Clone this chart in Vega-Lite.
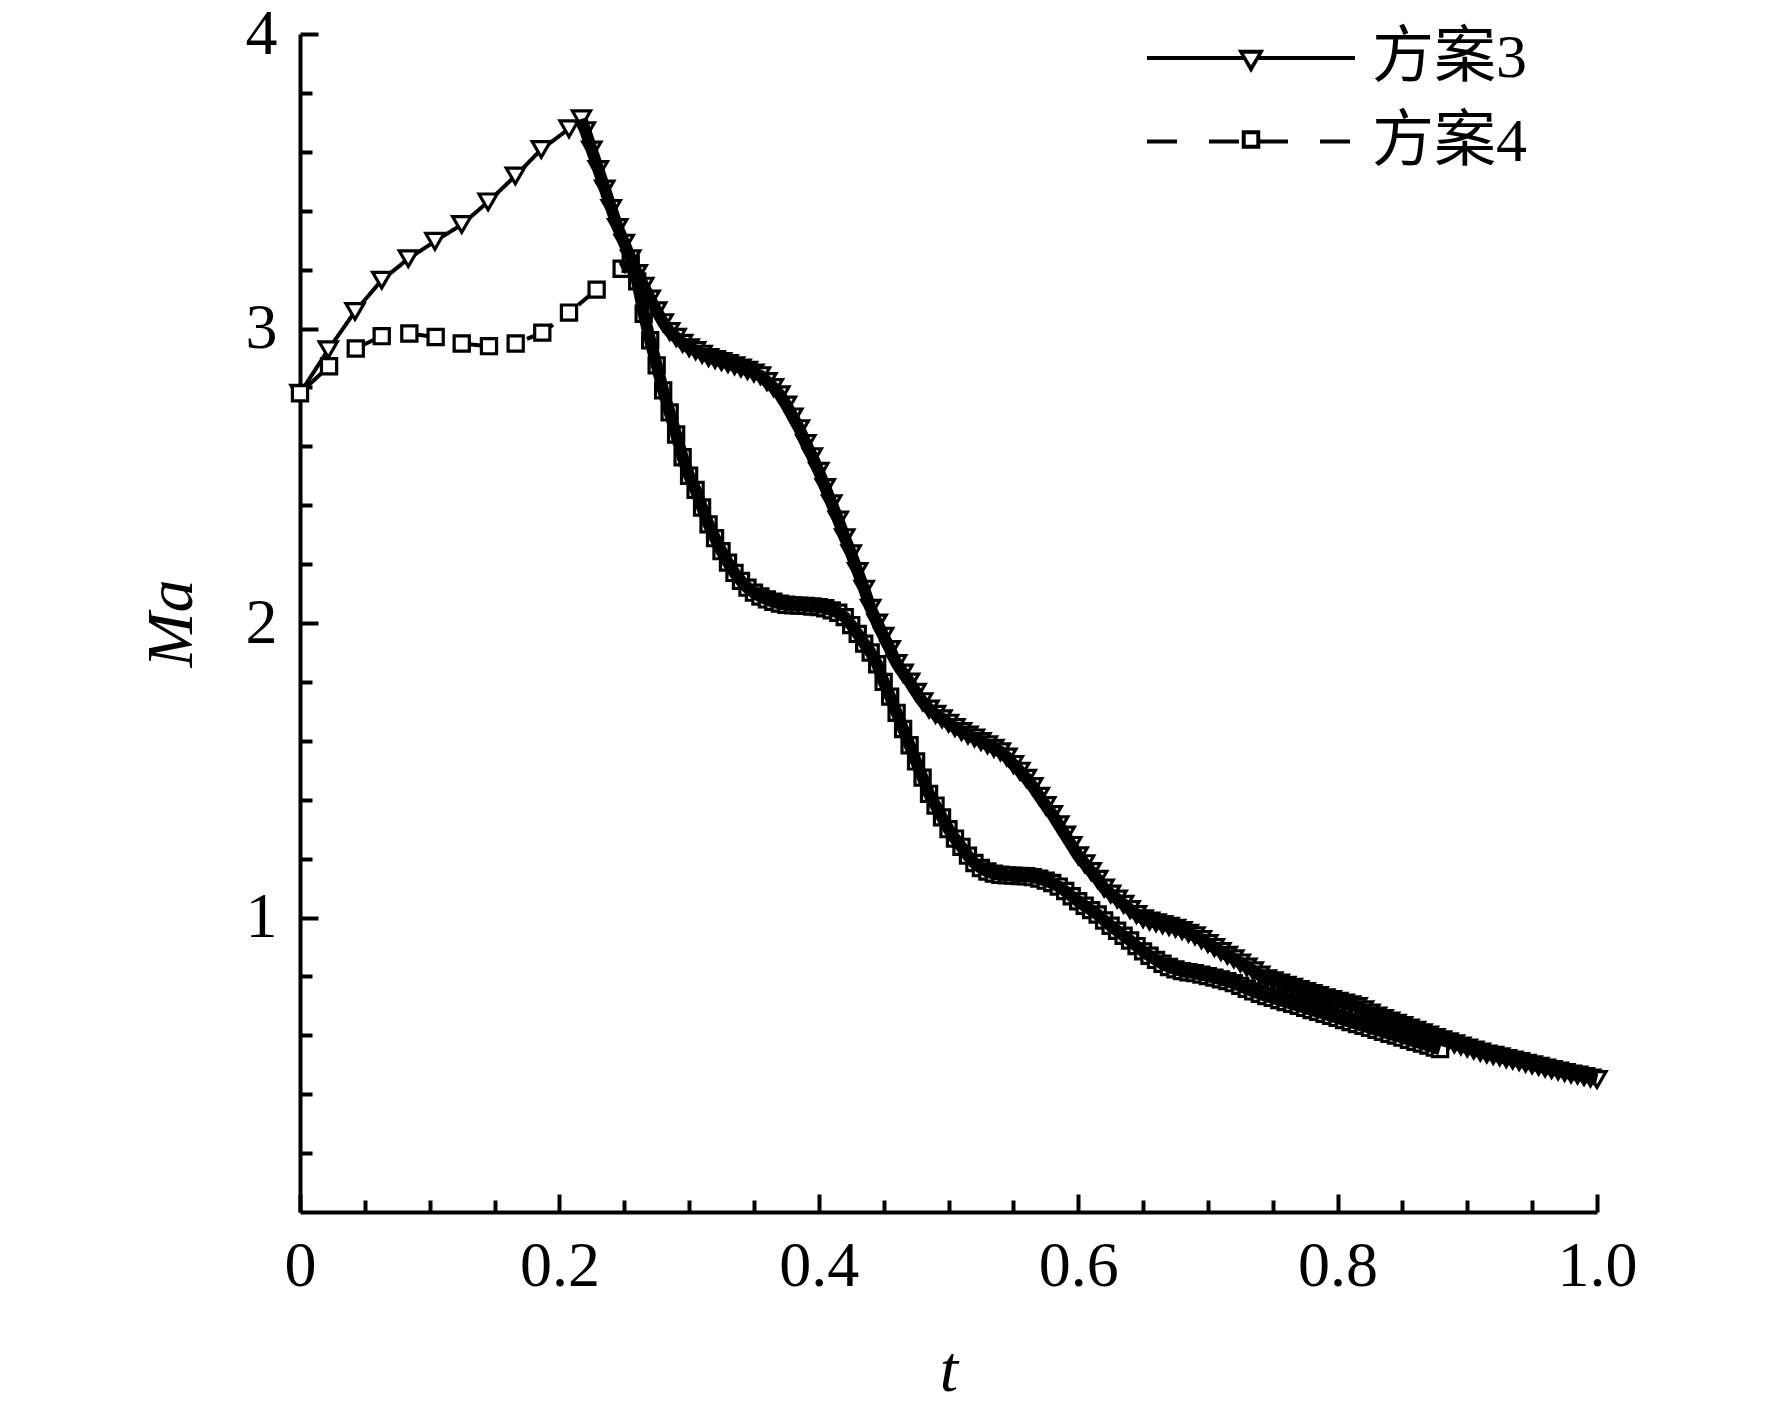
{
  "$schema": "https://vega.github.io/schema/vega-lite/v6.json",
  "width": 1297,
  "height": 1178,
  "autosize": {"type": "none"},
  "padding": {"left": 300, "top": 34, "right": 175, "bottom": 196},
  "background": "white",
  "config": {
    "view": {"stroke": null},
    "axis": {
      "domainColor": "black", "domainWidth": 4, "tickColor": "black", "tickWidth": 4,
      "labelColor": "black", "titleColor": "black",
      "labelFont": "Liberation Serif", "titleFont": "Liberation Serif",
      "labelFontSize": 64, "titleFontSize": 66, "titleFontStyle": "italic", "titleFontWeight": "normal",
      "grid": false, "labelOverlap": false, "labelFlush": false
    }
  },
  "data": {"values": [
    {"s":"方案3","t":0,"Ma":2.78},{"s":"方案3","t":0.0218,"Ma":2.928},{"s":"方案3","t":0.0424,"Ma":3.058},{"s":"方案3","t":0.063,"Ma":3.164},
    {"s":"方案3","t":0.0835,"Ma":3.237},{"s":"方案3","t":0.104,"Ma":3.296},{"s":"方案3","t":0.1247,"Ma":3.353},{"s":"方案3","t":0.145,"Ma":3.43},
    {"s":"方案3","t":0.166,"Ma":3.518},{"s":"方案3","t":0.186,"Ma":3.608},{"s":"方案3","t":0.2074,"Ma":3.678},{"s":"方案3","t":0.217,"Ma":3.712},
    {"s":"方案3","t":0.22,"Ma":3.672},{"s":"方案3","t":0.225,"Ma":3.606},{"s":"方案3","t":0.23,"Ma":3.54},{"s":"方案3","t":0.235,"Ma":3.474},
    {"s":"方案3","t":0.24,"Ma":3.408},{"s":"方案3","t":0.245,"Ma":3.343},{"s":"方案3","t":0.25,"Ma":3.29},{"s":"方案3","t":0.255,"Ma":3.237},
    {"s":"方案3","t":0.26,"Ma":3.187},{"s":"方案3","t":0.265,"Ma":3.144},{"s":"方案3","t":0.27,"Ma":3.1},{"s":"方案3","t":0.275,"Ma":3.06},
    {"s":"方案3","t":0.28,"Ma":3.02},{"s":"方案3","t":0.285,"Ma":2.99},{"s":"方案3","t":0.29,"Ma":2.97},{"s":"方案3","t":0.295,"Ma":2.95},
    {"s":"方案3","t":0.3,"Ma":2.935},{"s":"方案3","t":0.305,"Ma":2.925},{"s":"方案3","t":0.31,"Ma":2.913},{"s":"方案3","t":0.315,"Ma":2.902},
    {"s":"方案3","t":0.32,"Ma":2.895},{"s":"方案3","t":0.325,"Ma":2.888},{"s":"方案3","t":0.33,"Ma":2.881},{"s":"方案3","t":0.335,"Ma":2.874},
    {"s":"方案3","t":0.34,"Ma":2.866},{"s":"方案3","t":0.345,"Ma":2.858},{"s":"方案3","t":0.35,"Ma":2.849},{"s":"方案3","t":0.355,"Ma":2.84},
    {"s":"方案3","t":0.36,"Ma":2.82},{"s":"方案3","t":0.365,"Ma":2.8},{"s":"方案3","t":0.37,"Ma":2.775},{"s":"方案3","t":0.375,"Ma":2.74},
    {"s":"方案3","t":0.38,"Ma":2.7},{"s":"方案3","t":0.385,"Ma":2.66},{"s":"方案3","t":0.39,"Ma":2.61},{"s":"方案3","t":0.395,"Ma":2.565},
    {"s":"方案3","t":0.4,"Ma":2.515},{"s":"方案3","t":0.405,"Ma":2.46},{"s":"方案3","t":0.41,"Ma":2.405},{"s":"方案3","t":0.415,"Ma":2.35},
    {"s":"方案3","t":0.42,"Ma":2.29},{"s":"方案3","t":0.425,"Ma":2.235},{"s":"方案3","t":0.43,"Ma":2.175},{"s":"方案3","t":0.435,"Ma":2.115},
    {"s":"方案3","t":0.44,"Ma":2.05},{"s":"方案3","t":0.445,"Ma":2.0},{"s":"方案3","t":0.45,"Ma":1.955},{"s":"方案3","t":0.455,"Ma":1.91},
    {"s":"方案3","t":0.46,"Ma":1.863},{"s":"方案3","t":0.465,"Ma":1.83},{"s":"方案3","t":0.47,"Ma":1.8},{"s":"方案3","t":0.475,"Ma":1.765},
    {"s":"方案3","t":0.48,"Ma":1.733},{"s":"方案3","t":0.485,"Ma":1.708},{"s":"方案3","t":0.49,"Ma":1.69},{"s":"方案3","t":0.495,"Ma":1.675},
    {"s":"方案3","t":0.5,"Ma":1.66},{"s":"方案3","t":0.505,"Ma":1.645},{"s":"方案3","t":0.51,"Ma":1.632},{"s":"方案3","t":0.515,"Ma":1.62},
    {"s":"方案3","t":0.52,"Ma":1.61},{"s":"方案3","t":0.525,"Ma":1.598},{"s":"方案3","t":0.53,"Ma":1.587},{"s":"方案3","t":0.535,"Ma":1.575},
    {"s":"方案3","t":0.54,"Ma":1.563},{"s":"方案3","t":0.545,"Ma":1.545},{"s":"方案3","t":0.55,"Ma":1.52},{"s":"方案3","t":0.555,"Ma":1.497},
    {"s":"方案3","t":0.56,"Ma":1.473},{"s":"方案3","t":0.565,"Ma":1.445},{"s":"方案3","t":0.57,"Ma":1.412},{"s":"方案3","t":0.575,"Ma":1.38},
    {"s":"方案3","t":0.58,"Ma":1.35},{"s":"方案3","t":0.585,"Ma":1.315},{"s":"方案3","t":0.59,"Ma":1.28},{"s":"方案3","t":0.595,"Ma":1.245},
    {"s":"方案3","t":0.6,"Ma":1.21},{"s":"方案3","t":0.605,"Ma":1.183},{"s":"方案3","t":0.61,"Ma":1.156},{"s":"方案3","t":0.615,"Ma":1.13},
    {"s":"方案3","t":0.62,"Ma":1.1},{"s":"方案3","t":0.625,"Ma":1.08},{"s":"方案3","t":0.63,"Ma":1.063},{"s":"方案3","t":0.635,"Ma":1.045},
    {"s":"方案3","t":0.64,"Ma":1.027},{"s":"方案3","t":0.645,"Ma":1.01},{"s":"方案3","t":0.65,"Ma":0.996},{"s":"方案3","t":0.655,"Ma":0.988},
    {"s":"方案3","t":0.66,"Ma":0.982},{"s":"方案3","t":0.665,"Ma":0.976},{"s":"方案3","t":0.67,"Ma":0.97},{"s":"方案3","t":0.675,"Ma":0.964},
    {"s":"方案3","t":0.68,"Ma":0.956},{"s":"方案3","t":0.685,"Ma":0.947},{"s":"方案3","t":0.69,"Ma":0.938},{"s":"方案3","t":0.695,"Ma":0.925},
    {"s":"方案3","t":0.7,"Ma":0.912},{"s":"方案3","t":0.705,"Ma":0.898},{"s":"方案3","t":0.71,"Ma":0.885},{"s":"方案3","t":0.715,"Ma":0.872},
    {"s":"方案3","t":0.72,"Ma":0.86},{"s":"方案3","t":0.725,"Ma":0.846},{"s":"方案3","t":0.73,"Ma":0.832},{"s":"方案3","t":0.735,"Ma":0.819},
    {"s":"方案3","t":0.74,"Ma":0.805},{"s":"方案3","t":0.745,"Ma":0.792},{"s":"方案3","t":0.75,"Ma":0.785},{"s":"方案3","t":0.755,"Ma":0.778},
    {"s":"方案3","t":0.76,"Ma":0.77},{"s":"方案3","t":0.765,"Ma":0.763},{"s":"方案3","t":0.77,"Ma":0.756},{"s":"方案3","t":0.775,"Ma":0.749},
    {"s":"方案3","t":0.78,"Ma":0.742},{"s":"方案3","t":0.785,"Ma":0.735},{"s":"方案3","t":0.79,"Ma":0.728},{"s":"方案3","t":0.795,"Ma":0.722},
    {"s":"方案3","t":0.8,"Ma":0.716},{"s":"方案3","t":0.805,"Ma":0.71},{"s":"方案3","t":0.81,"Ma":0.704},{"s":"方案3","t":0.815,"Ma":0.698},
    {"s":"方案3","t":0.82,"Ma":0.687},{"s":"方案3","t":0.825,"Ma":0.676},{"s":"方案3","t":0.83,"Ma":0.666},{"s":"方案3","t":0.835,"Ma":0.657},
    {"s":"方案3","t":0.84,"Ma":0.649},{"s":"方案3","t":0.845,"Ma":0.641},{"s":"方案3","t":0.85,"Ma":0.633},{"s":"方案3","t":0.855,"Ma":0.625},
    {"s":"方案3","t":0.86,"Ma":0.617},{"s":"方案3","t":0.865,"Ma":0.609},{"s":"方案3","t":0.87,"Ma":0.601},{"s":"方案3","t":0.875,"Ma":0.593},
    {"s":"方案3","t":0.88,"Ma":0.585},{"s":"方案3","t":0.885,"Ma":0.578},{"s":"方案3","t":0.89,"Ma":0.571},{"s":"方案3","t":0.895,"Ma":0.564},
    {"s":"方案3","t":0.9,"Ma":0.557},{"s":"方案3","t":0.905,"Ma":0.55},{"s":"方案3","t":0.91,"Ma":0.543},{"s":"方案3","t":0.915,"Ma":0.537},
    {"s":"方案3","t":0.92,"Ma":0.532},{"s":"方案3","t":0.925,"Ma":0.527},{"s":"方案3","t":0.93,"Ma":0.521},{"s":"方案3","t":0.935,"Ma":0.516},
    {"s":"方案3","t":0.94,"Ma":0.511},{"s":"方案3","t":0.945,"Ma":0.505},{"s":"方案3","t":0.95,"Ma":0.5},{"s":"方案3","t":0.955,"Ma":0.495},
    {"s":"方案3","t":0.96,"Ma":0.489},{"s":"方案3","t":0.965,"Ma":0.484},{"s":"方案3","t":0.97,"Ma":0.479},{"s":"方案3","t":0.975,"Ma":0.474},
    {"s":"方案3","t":0.98,"Ma":0.469},{"s":"方案3","t":0.985,"Ma":0.465},{"s":"方案3","t":0.99,"Ma":0.46},{"s":"方案3","t":0.995,"Ma":0.455},
    {"s":"方案3","t":1.0,"Ma":0.45},
    {"s":"方案4","t":0,"Ma":2.78},{"s":"方案4","t":0.0224,"Ma":2.872},{"s":"方案4","t":0.043,"Ma":2.932},{"s":"方案4","t":0.063,"Ma":2.974},
    {"s":"方案4","t":0.0843,"Ma":2.983},{"s":"方案4","t":0.1046,"Ma":2.971},{"s":"方案4","t":0.1247,"Ma":2.949},{"s":"方案4","t":0.1457,"Ma":2.94},
    {"s":"方案4","t":0.1663,"Ma":2.949},{"s":"方案4","t":0.1868,"Ma":2.986},{"s":"方案4","t":0.2074,"Ma":3.054},{"s":"方案4","t":0.2287,"Ma":3.132},
    {"s":"方案4","t":0.248,"Ma":3.203},
    {"s":"方案4","t":0.255,"Ma":3.22},{"s":"方案4","t":0.26,"Ma":3.16},{"s":"方案4","t":0.265,"Ma":3.05},{"s":"方案4","t":0.27,"Ma":2.96},
    {"s":"方案4","t":0.275,"Ma":2.875},{"s":"方案4","t":0.28,"Ma":2.79},{"s":"方案4","t":0.285,"Ma":2.715},{"s":"方案4","t":0.29,"Ma":2.64},
    {"s":"方案4","t":0.295,"Ma":2.563},{"s":"方案4","t":0.3,"Ma":2.5},{"s":"方案4","t":0.305,"Ma":2.452},{"s":"方案4","t":0.31,"Ma":2.392},
    {"s":"方案4","t":0.315,"Ma":2.335},{"s":"方案4","t":0.32,"Ma":2.288},{"s":"方案4","t":0.325,"Ma":2.244},{"s":"方案4","t":0.33,"Ma":2.205},
    {"s":"方案4","t":0.335,"Ma":2.17},{"s":"方案4","t":0.34,"Ma":2.143},{"s":"方案4","t":0.345,"Ma":2.12},{"s":"方案4","t":0.35,"Ma":2.103},
    {"s":"方案4","t":0.355,"Ma":2.09},{"s":"方案4","t":0.36,"Ma":2.08},{"s":"方案4","t":0.365,"Ma":2.072},{"s":"方案4","t":0.37,"Ma":2.066},
    {"s":"方案4","t":0.375,"Ma":2.062},{"s":"方案4","t":0.38,"Ma":2.06},{"s":"方案4","t":0.385,"Ma":2.059},{"s":"方案4","t":0.39,"Ma":2.058},
    {"s":"方案4","t":0.395,"Ma":2.056},{"s":"方案4","t":0.4,"Ma":2.054},{"s":"方案4","t":0.405,"Ma":2.05},{"s":"方案4","t":0.41,"Ma":2.043},
    {"s":"方案4","t":0.415,"Ma":2.035},{"s":"方案4","t":0.42,"Ma":2.02},{"s":"方案4","t":0.425,"Ma":1.993},{"s":"方案4","t":0.43,"Ma":1.963},
    {"s":"方案4","t":0.435,"Ma":1.93},{"s":"方案4","t":0.44,"Ma":1.9},{"s":"方案4","t":0.445,"Ma":1.86},{"s":"方案4","t":0.45,"Ma":1.8},
    {"s":"方案4","t":0.455,"Ma":1.75},{"s":"方案4","t":0.46,"Ma":1.695},{"s":"方案4","t":0.465,"Ma":1.64},{"s":"方案4","t":0.47,"Ma":1.585},
    {"s":"方案4","t":0.475,"Ma":1.53},{"s":"方案4","t":0.48,"Ma":1.475},{"s":"方案4","t":0.485,"Ma":1.42},{"s":"方案4","t":0.49,"Ma":1.38},
    {"s":"方案4","t":0.495,"Ma":1.34},{"s":"方案4","t":0.5,"Ma":1.3},{"s":"方案4","t":0.505,"Ma":1.268},{"s":"方案4","t":0.51,"Ma":1.24},
    {"s":"方案4","t":0.515,"Ma":1.21},{"s":"方案4","t":0.52,"Ma":1.185},{"s":"方案4","t":0.525,"Ma":1.168},{"s":"方案4","t":0.53,"Ma":1.156},
    {"s":"方案4","t":0.535,"Ma":1.149},{"s":"方案4","t":0.54,"Ma":1.145},{"s":"方案4","t":0.545,"Ma":1.143},{"s":"方案4","t":0.55,"Ma":1.142},
    {"s":"方案4","t":0.555,"Ma":1.141},{"s":"方案4","t":0.56,"Ma":1.14},{"s":"方案4","t":0.565,"Ma":1.137},{"s":"方案4","t":0.57,"Ma":1.132},
    {"s":"方案4","t":0.575,"Ma":1.125},{"s":"方案4","t":0.58,"Ma":1.117},{"s":"方案4","t":0.585,"Ma":1.105},{"s":"方案4","t":0.59,"Ma":1.09},
    {"s":"方案4","t":0.595,"Ma":1.072},{"s":"方案4","t":0.6,"Ma":1.055},{"s":"方案4","t":0.605,"Ma":1.04},{"s":"方案4","t":0.61,"Ma":1.025},
    {"s":"方案4","t":0.615,"Ma":1.01},{"s":"方案4","t":0.62,"Ma":0.99},{"s":"方案4","t":0.625,"Ma":0.972},{"s":"方案4","t":0.63,"Ma":0.955},
    {"s":"方案4","t":0.635,"Ma":0.938},{"s":"方案4","t":0.64,"Ma":0.922},{"s":"方案4","t":0.645,"Ma":0.903},{"s":"方案4","t":0.65,"Ma":0.885},
    {"s":"方案4","t":0.655,"Ma":0.87},{"s":"方案4","t":0.66,"Ma":0.856},{"s":"方案4","t":0.665,"Ma":0.843},{"s":"方案4","t":0.67,"Ma":0.832},
    {"s":"方案4","t":0.675,"Ma":0.824},{"s":"方案4","t":0.68,"Ma":0.818},{"s":"方案4","t":0.685,"Ma":0.814},{"s":"方案4","t":0.69,"Ma":0.811},
    {"s":"方案4","t":0.695,"Ma":0.806},{"s":"方案4","t":0.7,"Ma":0.801},{"s":"方案4","t":0.705,"Ma":0.796},{"s":"方案4","t":0.71,"Ma":0.79},
    {"s":"方案4","t":0.715,"Ma":0.784},{"s":"方案4","t":0.72,"Ma":0.777},{"s":"方案4","t":0.725,"Ma":0.768},{"s":"方案4","t":0.73,"Ma":0.758},
    {"s":"方案4","t":0.735,"Ma":0.749},{"s":"方案4","t":0.74,"Ma":0.741},{"s":"方案4","t":0.745,"Ma":0.733},{"s":"方案4","t":0.75,"Ma":0.727},
    {"s":"方案4","t":0.755,"Ma":0.72},{"s":"方案4","t":0.76,"Ma":0.713},{"s":"方案4","t":0.765,"Ma":0.707},{"s":"方案4","t":0.77,"Ma":0.7},
    {"s":"方案4","t":0.775,"Ma":0.693},{"s":"方案4","t":0.78,"Ma":0.686},{"s":"方案4","t":0.785,"Ma":0.68},{"s":"方案4","t":0.79,"Ma":0.673},
    {"s":"方案4","t":0.795,"Ma":0.666},{"s":"方案4","t":0.8,"Ma":0.659},{"s":"方案4","t":0.805,"Ma":0.652},{"s":"方案4","t":0.81,"Ma":0.645},
    {"s":"方案4","t":0.815,"Ma":0.638},{"s":"方案4","t":0.82,"Ma":0.632},{"s":"方案4","t":0.825,"Ma":0.625},{"s":"方案4","t":0.83,"Ma":0.619},
    {"s":"方案4","t":0.835,"Ma":0.612},{"s":"方案4","t":0.84,"Ma":0.605},{"s":"方案4","t":0.845,"Ma":0.599},{"s":"方案4","t":0.85,"Ma":0.592},
    {"s":"方案4","t":0.855,"Ma":0.585},{"s":"方案4","t":0.86,"Ma":0.578},{"s":"方案4","t":0.865,"Ma":0.572},{"s":"方案4","t":0.87,"Ma":0.565},
    {"s":"方案4","t":0.875,"Ma":0.558},{"s":"方案4","t":0.879,"Ma":0.553}
  ]},
  "layer": [
    {
      "mark": {"type": "line", "color": "black", "strokeWidth": 4},
      "encoding": {
        "x": {"field": "t", "type": "quantitative", "scale": {"domain": [0, 1], "nice": false},
          "axis": {"orient": "bottom", "values": [0, 0.2, 0.4, 0.6, 0.8, 1.0], "tickSize": -18, "labelPadding": 40,
            "labelExpr": "datum.value == 0 ? '0' : format(datum.value, '.1f')",
            "title": "t", "titlePadding": 40}},
        "y": {"field": "Ma", "type": "quantitative", "scale": {"domain": [0, 4], "nice": false},
          "axis": {"orient": "left", "values": [1, 2, 3, 4], "tickSize": -18, "labelPadding": 41, "format": "d",
            "title": "Ma", "titlePadding": 40}},
        "strokeDash": {"field": "s", "type": "nominal",
          "scale": {"domain": ["方案3", "方案4"], "range": [[1, 0], [30, 32]]},
          "legend": {"orient": "none", "legendX": 919, "legendY": -8, "title": null, "padding": 0,
            "symbolType": "M-3.467,0H-0.233M0.233,0H3.467", "symbolSize": 3600, "symbolStrokeWidth": 4, "symbolStrokeColor": "black",
            "labelFont": "Liberation Serif, Noto Sans CJK SC", "labelFontSize": 62, "labelColor": "black",
            "labelOffset": 89, "labelLimit": 400, "rowPadding": 20.5}}
      }
    },
    {
      "transform": [{"filter": "datum.s == '方案3'"}],
      "mark": {"type": "point", "shape": "triangle-down", "size": 330, "fill": "white", "stroke": "black", "strokeWidth": 3.2, "opacity": 1},
      "encoding": {
        "x": {"field": "t", "type": "quantitative",
          "axis": {"orient": "bottom", "values": [0.05, 0.1, 0.15, 0.25, 0.3, 0.35, 0.45, 0.5, 0.55, 0.65, 0.7, 0.75, 0.85, 0.9, 0.95],
            "tickSize": -12, "labels": false, "domain": false, "title": null}},
        "y": {"field": "Ma", "type": "quantitative",
          "axis": {"orient": "left", "values": [0.2, 0.4, 0.6, 0.8, 1.2, 1.4, 1.6, 1.8, 2.2, 2.4, 2.6, 2.8, 3.2, 3.4, 3.6, 3.8],
            "tickSize": -12, "labels": false, "domain": false, "title": null}}
      }
    },
    {
      "transform": [{"filter": "datum.s == '方案4'"}],
      "mark": {"type": "point", "shape": "square", "size": 230, "fill": "white", "stroke": "black", "strokeWidth": 3.2, "opacity": 1},
      "encoding": {
        "x": {"field": "t", "type": "quantitative", "axis": null},
        "y": {"field": "Ma", "type": "quantitative", "axis": null}
      }
    },
    {
      "transform": [{"filter": "(datum.s == '方案3' && datum.t >= 0.217) || (datum.s == '方案4' && datum.t >= 0.248)"}],
      "mark": {"type": "line", "color": "black", "strokeWidth": 12},
      "encoding": {
        "x": {"field": "t", "type": "quantitative", "axis": null},
        "y": {"field": "Ma", "type": "quantitative", "axis": null},
        "detail": {"field": "s", "type": "nominal"}
      }
    },
    {
      "transform": [{"filter": "false"}],
      "mark": {"type": "point", "fill": "black", "stroke": "black", "strokeWidth": 1, "opacity": 1},
      "encoding": {
        "x": {"field": "t", "type": "quantitative", "axis": null},
        "y": {"field": "Ma", "type": "quantitative", "axis": null},
        "shape": {"field": "s", "type": "nominal",
          "scale": {"domain": ["方案4", "方案3"],
            "range": ["M-0.7,-0.7H0.7V0.7H-0.7ZM-0.4,-0.4V0.4H0.4V-0.4Z",
                      "M-1,-0.55L1,-0.55L0,1.2ZM-0.53,-0.25L0,0.63L0.53,-0.25Z"]},
          "legend": {"orient": "none", "legendX": 920, "legendY": -8, "title": null, "padding": 0, "values": ["方案3", "方案4"],
            "symbolSize": 700, "symbolStrokeWidth": 1, "symbolStrokeColor": "black", "symbolFillColor": "black",
            "labelFont": "Liberation Serif, Noto Sans CJK SC", "labelFontSize": 62, "labelColor": "transparent", "rowPadding": 20.5}}
      }
    }
  ],
  "resolve": {
    "axis": {"x": "independent", "y": "independent"}
  }
}
